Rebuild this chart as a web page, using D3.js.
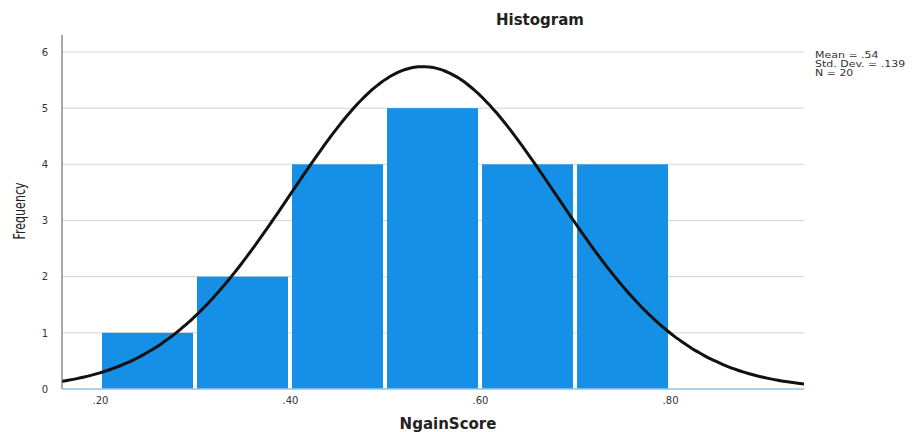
<!DOCTYPE html>
<html>
<head>
<meta charset="utf-8">
<script src="https://cdn.jsdelivr.net/npm/d3@7"></script>
<style>
  body { margin: 0; background: #fff; }
  text { font-family: "DejaVu Sans", sans-serif; }
</style>
</head>
<body>
<svg id="chart" width="924" height="432"></svg>
<script>
// histogram bins (lower edge, upper edge) and counts
const binStart = [0.2, 0.3, 0.4, 0.5, 0.6, 0.7];
const binEnd = [0.3, 0.4, 0.5, 0.6, 0.7, 0.8];
const counts = [1, 2, 4, 5, 4, 4];
const yTicks = [0, 1, 2, 3, 4, 5, 6];
const xTicks = [0.2, 0.4, 0.6, 0.8];
const stats = ["Mean = .54", "Std. Dev. = .139", "N = 20"];
const mean = 0.54, sd = 0.139, n = 20, binWidth = 0.1;

const svg = d3.select("#chart");
const plotLeft = 62, plotRight = 804, plotTop = 35, plotBottom = 389;

const x = d3.scaleLinear().domain([0.16, 0.941]).range([plotLeft, plotRight]);
const y = d3.scaleLinear().domain([0, 6]).range([plotBottom, 52]);

// grid lines
svg.append("g")
  .selectAll("line")
  .data(yTicks)
  .enter()
  .append("line")
  .attr("x1", plotLeft)
  .attr("x2", plotRight)
  .attr("y1", d => y(d))
  .attr("y2", d => y(d))
  .attr("stroke", "#d4d4d4")
  .attr("stroke-width", 1);

// bars
svg.append("g")
  .selectAll("rect")
  .data(counts)
  .enter()
  .append("rect")
  .attr("x", (d, i) => x(binStart[i]) + 2)
  .attr("width", (d, i) => x(binEnd[i]) - x(binStart[i]) - 4)
  .attr("y", d => y(d))
  .attr("height", d => y(0) - y(d))
  .attr("fill", "#168fe6");

// normal curve
const curvePts = d3.range(0, 201).map(i => {
  const v = 0.16 + i * (0.941 - 0.16) / 200;
  const f = n * binWidth / (sd * Math.sqrt(2 * Math.PI)) * Math.exp(-0.5 * Math.pow((v - mean) / sd, 2));
  return [v, f];
});
const line = d3.line().x(d => x(d[0])).y(d => y(d[1])).curve(d3.curveBasis);
svg.append("path")
  .attr("d", line(curvePts))
  .attr("fill", "none")
  .attr("stroke", "#111")
  .attr("stroke-width", 3);

// y axis
const yAxis = d3.axisLeft(y).tickValues(yTicks).tickSize(0).tickPadding(14).tickFormat(d3.format("d"));
const yg = svg.append("g").attr("transform", `translate(${plotLeft},0)`).call(yAxis);
yg.select(".domain").remove();
yg.selectAll("text").style("font-size", "10px").attr("fill", "#333");
svg.append("line")
  .attr("x1", plotLeft).attr("x2", plotLeft)
  .attr("y1", plotTop).attr("y2", plotBottom)
  .attr("stroke", "#555").attr("stroke-width", 1);

// x axis
const xAxis = d3.axisBottom(x).tickValues(xTicks).tickSize(0).tickPadding(8)
  .tickFormat(d => d3.format(".2f")(d).replace(/^0/, ""));
const xg = svg.append("g").attr("transform", `translate(0,${plotBottom})`).call(xAxis);
xg.select(".domain").remove();
xg.selectAll("text").style("font-size", "10px").attr("fill", "#333");
svg.append("line")
  .attr("x1", plotLeft).attr("x2", plotRight)
  .attr("y1", plotBottom).attr("y2", plotBottom)
  .attr("stroke", "#9cc9ec").attr("stroke-width", 1.5);

// titles
svg.append("text")
  .attr("x", 540).attr("y", 25)
  .style("text-anchor", "middle")
  .style("font-size", "15px")
  .style("font-weight", "bold")
  .attr("fill", "#222")
  .text("Histogram");

svg.append("text")
  .attr("x", 448).attr("y", 429)
  .style("text-anchor", "middle")
  .style("font-size", "15px")
  .style("font-weight", "bold")
  .attr("fill", "#222")
  .text("NgainScore");

svg.append("text")
  .attr("transform", "translate(25,211) rotate(-90) scale(0.85,1.25)")
  .style("text-anchor", "middle")
  .style("font-size", "13px")
  .attr("fill", "#222")
  .text("Frequency");

// stats legend (wide, flat lettering)
svg.append("g")
  .attr("transform", "translate(815,0) scale(1.22,0.92)")
  .selectAll("text")
  .data(stats)
  .enter()
  .append("text")
  .attr("x", 0)
  .attr("y", (d, i) => 63 + i * 9.6)
  .style("font-size", "9px")
  .attr("fill", "#333")
  .text(d => d);
</script>
</body>
</html>
